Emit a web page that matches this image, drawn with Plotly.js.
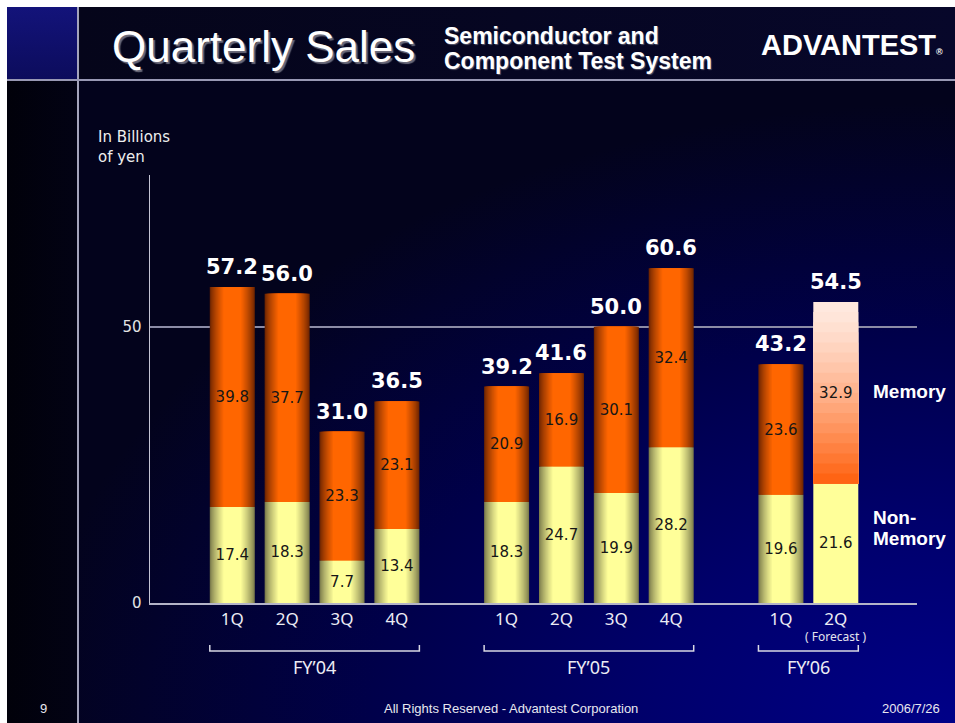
<!DOCTYPE html>
<html>
<head>
<meta charset="utf-8">
<script src="https://cdn.plot.ly/plotly-3.0.1.min.js"></script>
<style>
  html, body { margin: 0; padding: 0; background: #fff; }
  #stage { position: relative; width: 955px; height: 723px; overflow: hidden; background: #fff; }
  .bg { position: absolute; }
  #corner { left: 7px; top: 7px; width: 70px; height: 72px; background: linear-gradient(180deg, #13137a, #0c0c5c); }
  #band { left: 79px; top: 7px; width: 876px; height: 72px; background: linear-gradient(90deg, #05051a, #07072a); }
  #strip { left: 7px; top: 81px; width: 70px; height: 642px; background: linear-gradient(90deg, #01010a, #020214); }
  #main { left: 79px; top: 81px; width: 876px; height: 642px;
          background: radial-gradient(ellipse 115% 105% at 100% 100%, #000088 0%, #00006c 30%, #00004a 58%, #03031c 92%); }
  #vline { left: 77px; top: 7px; width: 2px; height: 716px; background: #a4a4bc; }
  #hline { left: 7px; top: 79px; width: 948px; height: 2px; background: #9898b4; }
  #chart { position: absolute; left: 0; top: 0; width: 955px; height: 723px; }
</style>
</head>
<body>
<div id="stage">
  <div class="bg" id="corner"></div>
  <div class="bg" id="band"></div>
  <div class="bg" id="strip"></div>
  <div class="bg" id="main"></div>
  <div class="bg" id="vline"></div>
  <div class="bg" id="hline"></div>
  <div id="chart"></div>
</div>
<script>
// --- data (billions of yen) ---
const quarters = ['1Q', '2Q', '3Q', '4Q', '1Q', '2Q', '3Q', '4Q', '1Q', '2Q'];
const fiscalYears = ['FY\u201904', 'FY\u201905', 'FY\u201906'];
const fyIndex = [0, 0, 0, 0, 1, 1, 1, 1, 2, 2];
const nonMemory = [17.4, 18.3, 7.7, 13.4, 18.3, 24.7, 19.9, 28.2, 19.6, 21.6];
const memory = [39.8, 37.7, 23.3, 23.1, 20.9, 16.9, 30.1, 32.4, 23.6, 32.9];
const totals = [57.2, 56.0, 31.0, 36.5, 39.2, 41.6, 50.0, 60.6, 43.2, 54.5];
const isForecast = [false, false, false, false, false, false, false, false, false, true];

// bar slots: one empty slot between fiscal years
const xPos = quarters.map((q, i) => fyIndex[i] * 5 + parseInt(q, 10) - 1);

const BAR_W = 0.82;
const ORANGE_EDGE = [112, 38, 0], ORANGE_MID = [255, 102, 0];
const YELLOW_EDGE = [124, 124, 76], YELLOW_MID = [255, 255, 153];
const FC_TOP = [255, 232, 222], FC_BOTTOM = [255, 100, 20];

function mix(a, b, t) {
  return 'rgb(' + a.map((v, k) => Math.round(v + (b[k] - v) * t)).join(',') + ')';
}

// plot area in pixels: x 150..917, y 175..603
const px = x => (x - 150) / 767;
const py = y => (603 - y) / 428;

const traces = [];

// cylinder look: stacked layers, narrower = brighter
const LAYERS = 12;
for (let k = 0; k <= LAYERS; k++) {
  const d = 0.3 * k / LAYERS;
  const t = Math.pow(k / LAYERS, 0.8);
  const w = BAR_W * (1 - 2 * d);
  traces.push({
    type: 'bar', x: xPos, width: w,
    y: nonMemory.map((v, i) => isForecast[i] ? null : v),
    marker: { color: mix(YELLOW_EDGE, YELLOW_MID, t), line: { width: 0 } },
    hoverinfo: 'skip', showlegend: false,
  });
  traces.push({
    type: 'bar', x: xPos, width: w,
    y: memory.map((v, i) => isForecast[i] ? null : v),
    base: nonMemory,
    marker: { color: mix(ORANGE_EDGE, ORANGE_MID, t), line: { width: 0 } },
    hoverinfo: 'skip', showlegend: false,
  });
}

// forecast bar: flat non-memory, vertical fade on memory
traces.push({
  type: 'bar', x: xPos, width: BAR_W,
  y: nonMemory.map((v, i) => isForecast[i] ? v : null),
  marker: { color: mix(YELLOW_MID, YELLOW_MID, 0), line: { width: 0 } },
  hoverinfo: 'skip', showlegend: false,
});
const STEPS = 18;
for (let k = 0; k < STEPS; k++) {
  const t = Math.pow(k / (STEPS - 1), 1.3);
  traces.push({
    type: 'bar', x: xPos, width: BAR_W,
    y: memory.map((v, i) => isForecast[i] ? v * (1 - k / STEPS) : null),
    base: nonMemory,
    marker: { color: mix(FC_TOP, FC_BOTTOM, t), line: { width: 0 } },
    hoverinfo: 'skip', showlegend: false,
  });
}

// segment value labels
const valueFont = { family: 'DejaVu Sans, Verdana, sans-serif', size: 15, color: '#161616' };
traces.push({
  type: 'bar', x: xPos, width: BAR_W, y: nonMemory,
  text: nonMemory.map(v => v.toFixed(1)),
  textposition: 'inside', insidetextanchor: 'middle', textangle: 0,
  insidetextfont: valueFont, constraintext: 'none',
  marker: { color: 'rgba(0,0,0,0)', line: { width: 0 } },
  hoverinfo: 'skip', showlegend: false,
});
traces.push({
  type: 'bar', x: xPos, width: BAR_W, y: memory, base: nonMemory,
  text: memory.map(v => v.toFixed(1)),
  textposition: 'inside', insidetextanchor: 'middle', textangle: 0,
  insidetextfont: valueFont, constraintext: 'none',
  marker: { color: 'rgba(0,0,0,0)', line: { width: 0 } },
  hoverinfo: 'skip', showlegend: false,
});

const annotations = [];
const shapes = [];

// totals above bars
totals.forEach((v, i) => {
  annotations.push({
    x: xPos[i], y: v, xref: 'x', yref: 'y', yanchor: 'bottom', yshift: 6,
    text: v.toFixed(1), showarrow: false,
    font: { family: 'DejaVu Sans, Verdana, sans-serif', size: 21, color: '#ffffff', weight: 'bold' },
  });
});

// fiscal year brackets + labels
fiscalYears.forEach((fy, g) => {
  const pts = xPos.filter((x, i) => fyIndex[i] === g);
  const x0 = Math.min(...pts) - BAR_W / 2, x1 = Math.max(...pts) + BAR_W / 2;
  const yTop = py(645), yBot = py(651);
  shapes.push({
    type: 'path', xref: 'x', yref: 'paper',
    path: `M ${x0},${yTop} L ${x0},${yBot} L ${x1},${yBot} L ${x1},${yTop}`,
    line: { color: '#d8d8e4', width: 1.5 },
  });
  annotations.push({
    x: (x0 + x1) / 2, y: py(667), xref: 'x', yref: 'paper', yanchor: 'middle',
    text: fy, showarrow: false,
    font: { family: 'Noto Sans, sans-serif', size: 18, color: '#ececf4' },
  });
});

xPos.forEach((x, i) => {
  if (isForecast[i]) {
    annotations.push({
      x: x, y: py(636), xref: 'x', yref: 'paper', yanchor: 'middle',
      text: '( Forecast )', showarrow: false,
      font: { family: 'Noto Sans, sans-serif', size: 12, color: '#e4e4ee' },
    });
  }
});

// axis unit, series names
const seriesFont = { family: 'Liberation Sans, Arial, sans-serif', size: 19, color: '#ffffff', weight: 'bold' };
annotations.push(
  { x: px(96), y: py(147), xref: 'paper', yref: 'paper', xanchor: 'left', yanchor: 'middle', align: 'left',
    text: 'In Billions<br>of yen', showarrow: false,
    font: { family: 'DejaVu Sans, Verdana, sans-serif', size: 15, color: '#eeeeee' } },
  { x: px(871), y: py(391), xref: 'paper', yref: 'paper', xanchor: 'left', yanchor: 'middle',
    text: 'Memory', showarrow: false, font: seriesFont },
  { x: px(871), y: py(517), xref: 'paper', yref: 'paper', xanchor: 'left', yanchor: 'middle',
    text: 'Non-', showarrow: false, font: seriesFont },
  { x: px(871), y: py(538), xref: 'paper', yref: 'paper', xanchor: 'left', yanchor: 'middle',
    text: 'Memory', showarrow: false, font: seriesFont }
);

// header
const subFont = { family: 'Liberation Sans, Arial, sans-serif', size: 23, color: '#ffffff', weight: 'bold', shadow: '1px 1px 1px #55556a' };
annotations.push(
  { x: px(110), y: py(46), xref: 'paper', yref: 'paper', xanchor: 'left', yanchor: 'middle',
    text: 'Quarterly Sales', showarrow: false,
    font: { family: 'Liberation Sans, Arial, sans-serif', size: 44, color: '#ffffff', shadow: '2px 2px 1px #6a6a7a' } },
  { x: px(442), y: py(36), xref: 'paper', yref: 'paper', xanchor: 'left', yanchor: 'middle',
    text: 'Semiconductor and', showarrow: false, font: subFont },
  { x: px(442), y: py(61), xref: 'paper', yref: 'paper', xanchor: 'left', yanchor: 'middle',
    text: 'Component Test System', showarrow: false, font: subFont },
  { x: px(759), y: py(45), xref: 'paper', yref: 'paper', xanchor: 'left', yanchor: 'middle',
    text: 'ADVANTEST<span style="font-size:9px">\u00ae</span>', showarrow: false,
    font: { family: 'Liberation Sans, Arial, sans-serif', size: 29, color: '#ffffff', weight: 'bold' } }
);

// footer
const footFont = { family: 'Liberation Sans, Arial, sans-serif', size: 13, color: '#e8e8f0' };
annotations.push(
  { x: px(43), y: py(708), xref: 'paper', yref: 'paper', xanchor: 'center', yanchor: 'middle',
    text: '9', showarrow: false, font: footFont },
  { x: px(511), y: py(708), xref: 'paper', yref: 'paper', xanchor: 'center', yanchor: 'middle',
    text: 'All Rights Reserved - Advantest Corporation', showarrow: false, font: footFont },
  { x: px(942), y: py(708), xref: 'paper', yref: 'paper', xanchor: 'right', yanchor: 'middle',
    text: '2006/7/26', showarrow: false, font: footFont }
);

const layout = {
  width: 955, height: 723,
  margin: { l: 150, r: 38, t: 175, b: 120, pad: 0 },
  paper_bgcolor: 'rgba(0,0,0,0)',
  plot_bgcolor: 'rgba(0,0,0,0)',
  barmode: 'overlay',
  showlegend: false,
  hovermode: false,
  xaxis: {
    range: [-1.5, 12.48],
    tickmode: 'array', tickvals: xPos, ticktext: quarters,
    ticks: '', showgrid: false, zeroline: false,
    showline: true, linecolor: '#b4b4c8', linewidth: 1.5,
    tickfont: { family: 'Noto Sans, sans-serif', size: 17, color: '#ececf4' },
    fixedrange: true,
  },
  yaxis: {
    range: [0, 77.5],
    tickmode: 'array', tickvals: [0, 50], ticktext: ['0', '50'],
    ticks: '', showgrid: true, gridcolor: '#8c8ca6', gridwidth: 1.5,
    zeroline: false, showline: true, linecolor: '#c4c4d4', linewidth: 1.5,
    ticklabelstandoff: 4,
    tickfont: { family: 'DejaVu Sans, Verdana, sans-serif', size: 15, color: '#e4e4e4' },
    fixedrange: true,
  },
  annotations,
  shapes,
};

Plotly.newPlot('chart', traces, layout, { displayModeBar: false, staticPlot: true });
</script>
</body>
</html>
